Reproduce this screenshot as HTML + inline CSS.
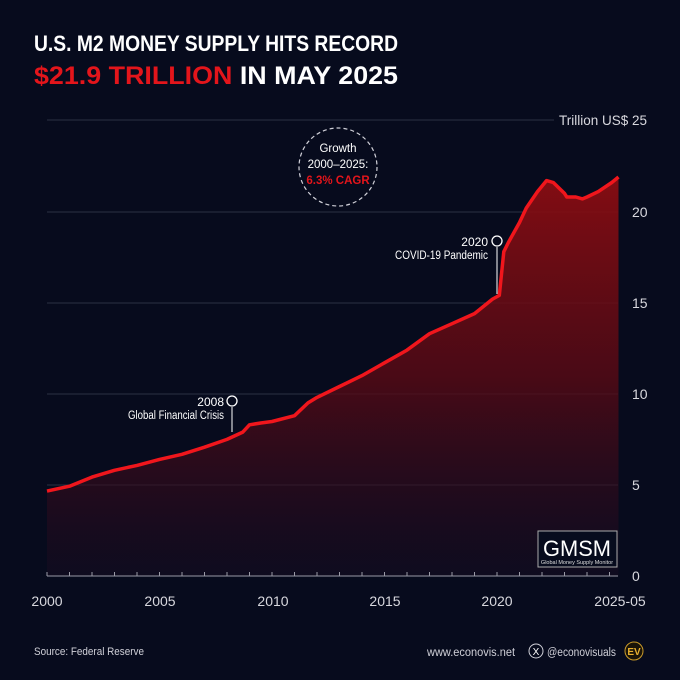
<!DOCTYPE html>
<html><head><meta charset="utf-8"><style>
body{margin:0;background:#070b1d;}
svg{display:block;font-family:"Liberation Sans",sans-serif;}
</style></head><body>
<svg width="680" height="680" viewBox="0 0 680 680" xmlns="http://www.w3.org/2000/svg">
<defs>
<linearGradient id="g" x1="0" y1="0" x2="0" y2="1">
<stop offset="0" stop-color="#8a0d12" stop-opacity="0.95"/>
<stop offset="0.5" stop-color="#5a0a14" stop-opacity="0.8"/>
<stop offset="1" stop-color="#1a0c22" stop-opacity="0.4"/>
</linearGradient>
</defs>
<rect width="680" height="680" fill="#070b1d"/>
<text x="34" y="51" fill="#fff" font-size="22" font-weight="bold" textLength="364" lengthAdjust="spacingAndGlyphs">U.S. M2 MONEY SUPPLY HITS RECORD</text>
<text x="34" y="84" font-size="25" font-weight="bold" textLength="364" lengthAdjust="spacingAndGlyphs"><tspan fill="#e3151b">$21.9 TRILLION</tspan><tspan fill="#fff"> IN MAY 2025</tspan></text>
<g stroke="#2b3044" stroke-width="1">
<line x1="47" y1="120" x2="554" y2="120"/>
<line x1="47" y1="212" x2="618" y2="212"/>
<line x1="47" y1="303" x2="618" y2="303"/>
<line x1="47" y1="394" x2="618" y2="394"/>
<line x1="47" y1="485" x2="618" y2="485"/>
</g>
<g fill="#d8d8de" font-size="14">
<text x="559" y="125" textLength="88" lengthAdjust="spacingAndGlyphs">Trillion US$ 25</text>
<text x="632" y="217">20</text>
<text x="632" y="308">15</text>
<text x="632" y="399">10</text>
<text x="632" y="490">5</text>
<text x="632" y="581">0</text>
</g>
<path d="M47,491.1 L69.5,486.2 L92,477.1 L114.5,470.3 L137,465.4 L159.5,459.4 L182,454.3 L204.5,447.2 L227,439.4 L242.8,432.1 L249.5,424.8 L260.8,423 L272,421.5 L294.5,415.7 L308,402.9 L317,397.4 L339.5,386.5 L362,375.6 L384.5,362.8 L407,350.1 L429.5,333.7 L452,323.7 L474.5,313.6 L492.5,299.1 L499.3,295.4 L503.8,251.7 L508.3,242.6 L519.5,222.5 L526.3,208 L537.5,191.6 L546.5,180.6 L553.3,182.5 L564.5,193.4 L566.8,197 L575.8,197 L582.5,198.9 L587,197 L598.3,191.6 L611.8,182.5 L618.5,177 L618.5,576 L47,576 Z" fill="url(#g)"/>
<path d="M47,491.1 L69.5,486.2 L92,477.1 L114.5,470.3 L137,465.4 L159.5,459.4 L182,454.3 L204.5,447.2 L227,439.4 L242.8,432.1 L249.5,424.8 L260.8,423 L272,421.5 L294.5,415.7 L308,402.9 L317,397.4 L339.5,386.5 L362,375.6 L384.5,362.8 L407,350.1 L429.5,333.7 L452,323.7 L474.5,313.6 L492.5,299.1 L499.3,295.4 L503.8,251.7 L508.3,242.6 L519.5,222.5 L526.3,208 L537.5,191.6 L546.5,180.6 L553.3,182.5 L564.5,193.4 L566.8,197 L575.8,197 L582.5,198.9 L587,197 L598.3,191.6 L611.8,182.5 L618.5,177" fill="none" stroke="#f0161c" stroke-width="3.5" stroke-linejoin="round"/>
<line x1="47" y1="576" x2="618" y2="576" stroke="#9a9aa6" stroke-width="1"/>
<g stroke="#9a9aa6" stroke-width="1">
<line x1="47" y1="576" x2="47" y2="572"/><line x1="69.5" y1="576" x2="69.5" y2="572"/><line x1="92" y1="576" x2="92" y2="572"/><line x1="114.5" y1="576" x2="114.5" y2="572"/><line x1="137" y1="576" x2="137" y2="572"/><line x1="159.5" y1="576" x2="159.5" y2="572"/><line x1="182" y1="576" x2="182" y2="572"/><line x1="204.5" y1="576" x2="204.5" y2="572"/><line x1="227" y1="576" x2="227" y2="572"/><line x1="249.5" y1="576" x2="249.5" y2="572"/><line x1="272" y1="576" x2="272" y2="572"/><line x1="294.5" y1="576" x2="294.5" y2="572"/><line x1="317" y1="576" x2="317" y2="572"/><line x1="339.5" y1="576" x2="339.5" y2="572"/><line x1="362" y1="576" x2="362" y2="572"/><line x1="384.5" y1="576" x2="384.5" y2="572"/><line x1="407" y1="576" x2="407" y2="572"/><line x1="429.5" y1="576" x2="429.5" y2="572"/><line x1="452" y1="576" x2="452" y2="572"/><line x1="474.5" y1="576" x2="474.5" y2="572"/><line x1="497" y1="576" x2="497" y2="572"/><line x1="519.5" y1="576" x2="519.5" y2="572"/><line x1="542" y1="576" x2="542" y2="572"/><line x1="564.5" y1="576" x2="564.5" y2="572"/><line x1="587" y1="576" x2="587" y2="572"/><line x1="609.5" y1="576" x2="609.5" y2="572"/>
</g>
<g fill="#d8d8de" font-size="14" text-anchor="middle">
<text x="47" y="606">2000</text><text x="160" y="606">2005</text><text x="273" y="606">2010</text><text x="385" y="606">2015</text><text x="497" y="606">2020</text><text x="620" y="606">2025-05</text>
</g>
<circle cx="338" cy="167" r="39" fill="none" stroke="#d0d0d8" stroke-width="1.2" stroke-dasharray="4,3"/>
<g font-size="11.5" text-anchor="middle" fill="#fff">
<text x="338" y="152">Growth</text><text x="338" y="168">2000–2025:</text>
<text x="338" y="184" fill="#e3151b" font-weight="bold">6.3% CAGR</text>
</g>
<line x1="497" y1="247" x2="497" y2="294" stroke="#fff" stroke-width="1"/>
<circle cx="497" cy="241" r="5" fill="#070b1d" stroke="#fff" stroke-width="1.3"/>
<text x="488" y="246" fill="#fff" font-size="12" text-anchor="end">2020</text>
<text x="488" y="259" fill="#fff" font-size="11.5" text-anchor="end" textLength="93" lengthAdjust="spacingAndGlyphs">COVID-19 Pandemic</text>
<line x1="232" y1="407" x2="232" y2="432" stroke="#fff" stroke-width="1"/>
<circle cx="232" cy="401" r="5" fill="#070b1d" stroke="#fff" stroke-width="1.3"/>
<text x="224" y="406" fill="#fff" font-size="12" text-anchor="end">2008</text>
<text x="224" y="419" fill="#fff" font-size="11.5" text-anchor="end" textLength="96" lengthAdjust="spacingAndGlyphs">Global Financial Crisis</text>
<rect x="538" y="531" width="79" height="36" fill="#070b1d" stroke="#aaa" stroke-width="1"/>
<text x="577" y="556" fill="#fff" font-size="22" text-anchor="middle" textLength="68" lengthAdjust="spacingAndGlyphs">GMSM</text>
<text x="577" y="564" fill="#ddd" font-size="5.5" text-anchor="middle">Global Money Supply Monitor</text>
<text x="34" y="655" fill="#d0d0d8" font-size="11" textLength="110" lengthAdjust="spacingAndGlyphs">Source: Federal Reserve</text>
<text x="427" y="656" fill="#d0d0d8" font-size="11.5" textLength="88" lengthAdjust="spacingAndGlyphs">www.econovis.net</text>
<circle cx="536" cy="651" r="7" fill="none" stroke="#d0d0d8" stroke-width="1"/>
<text x="536" y="655" fill="#fff" font-size="10" text-anchor="middle">X</text>
<text x="547" y="656" fill="#d0d0d8" font-size="11.5" textLength="69" lengthAdjust="spacingAndGlyphs">@econovisuals</text>
<circle cx="634" cy="651" r="9" fill="#1a1408" stroke="#c99a2a" stroke-width="1"/>
<text x="634" y="655" fill="#e8b030" font-size="10" font-weight="bold" text-anchor="middle">EV</text>
</svg>
</body></html>
